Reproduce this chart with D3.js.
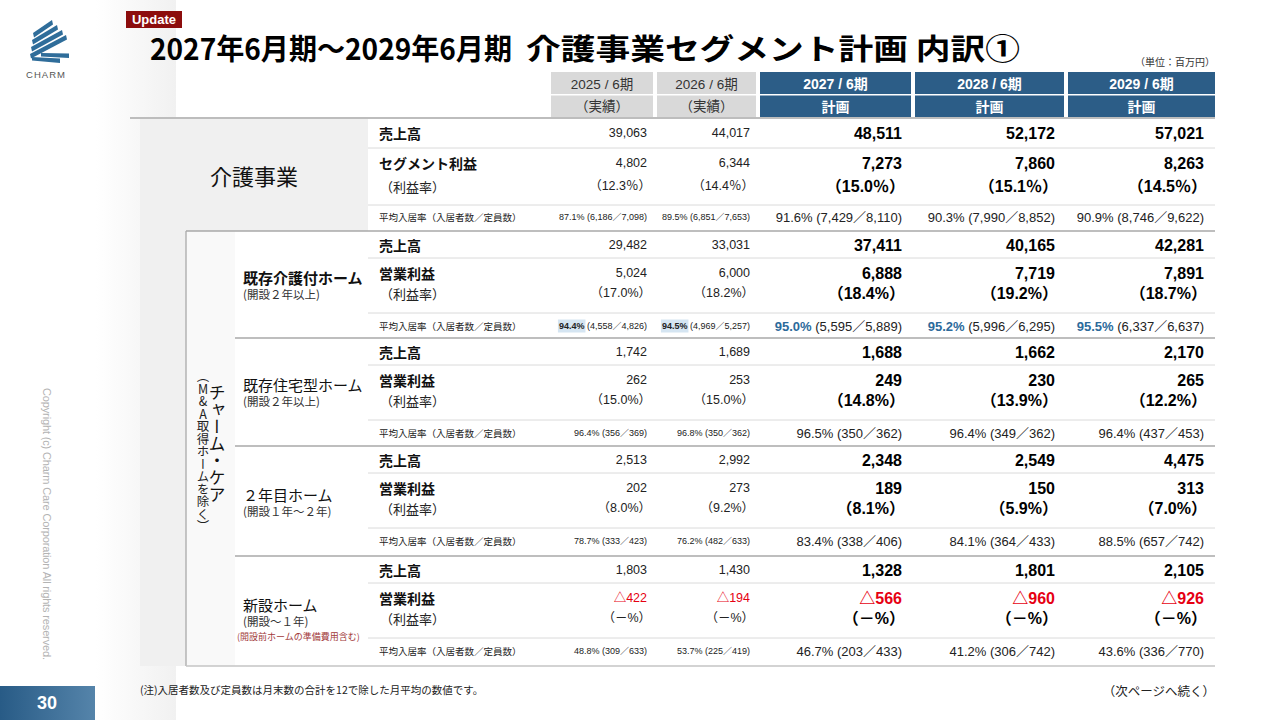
<!DOCTYPE html>
<html>
<head>
<meta charset="utf-8">
<script src="https://cdn.jsdelivr.net/npm/d3@7"></script>
<style>
  body { margin: 0; background: #fff; }
  text { font-family: "Liberation Sans", "Noto Sans CJK JP", sans-serif; }
  .jp { font-family: "Noto Sans CJK JP", sans-serif; }
</style>
</head>
<body>
<svg id="slide" width="1280" height="720"></svg>
<script>
// ---- data ----
const periods = ["2025 / 6期", "2026 / 6期", "2027 / 6期", "2028 / 6期", "2029 / 6期"];
const periodKinds = ["（実績）", "（実績）", "計画", "計画", "計画"];
const segments = ["介護事業", "既存介護付ホーム", "既存住宅型ホーム", "２年目ホーム", "新設ホーム"];
const segmentNotes = ["", "(開設２年以上)", "(開設２年以上)", "(開設１年～２年)", "(開設～１年)"];
const profitLabels = ["セグメント利益", "営業利益", "営業利益", "営業利益", "営業利益"];

const sales = [
  [39063, 44017, 48511, 52172, 57021],
  [29482, 33031, 37411, 40165, 42281],
  [1742, 1689, 1688, 1662, 2170],
  [2513, 2992, 2348, 2549, 4475],
  [1803, 1430, 1328, 1801, 2105]
];
const profit = [
  [4802, 6344, 7273, 7860, 8263],
  [5024, 6000, 6888, 7719, 7891],
  [262, 253, 249, 230, 265],
  [202, 273, 189, 150, 313],
  [-422, -194, -566, -960, -926]
];
const margin = [
  [12.3, 14.4, 15.0, 15.1, 14.5],
  [17.0, 18.2, 18.4, 19.2, 18.7],
  [15.0, 15.0, 14.8, 13.9, 12.2],
  [8.0, 9.2, 8.1, 5.9, 7.0],
  [null, null, null, null, null]
];
const occRate = [
  [87.1, 89.5, 91.6, 90.3, 90.9],
  [94.4, 94.5, 95.0, 95.2, 95.5],
  [96.4, 96.8, 96.5, 96.4, 96.4],
  [78.7, 76.2, 83.4, 84.1, 88.5],
  [48.8, 53.7, 46.7, 41.2, 43.6]
];
const residents = [
  [6186, 6851, 7429, 7990, 8746],
  [4558, 4969, 5595, 5996, 6337],
  [356, 350, 350, 349, 437],
  [333, 482, 338, 364, 657],
  [309, 225, 203, 306, 336]
];
const capacity = [
  [7098, 7653, 8110, 8852, 9622],
  [4826, 5257, 5889, 6295, 6637],
  [369, 362, 362, 362, 453],
  [423, 633, 406, 433, 742],
  [633, 419, 433, 742, 770]
];

// ---- layout ----
const svg = d3.select("#slide");
const fmt = d3.format(",");
const pct = d3.format(".1f");

const colX = d3.scaleOrdinal(periods, [551, 657, 760, 915, 1068]);
const colW = d3.scaleOrdinal(periods, [104, 101, 153, 151, 147]);
const segTop = d3.scaleOrdinal(segments, [119, 231, 338, 446, 556]);
const tableRight = 1215, tableBottom = 666;
const labelX = 379;

const blue = "#2c5d87", red = "#e60012";
const isPlan = i => i >= 2;

function txt(g, x, y, s, o = {}) {
  return g.append("text")
    .attr("x", x).attr("y", y)
    .attr("dominant-baseline", "central")
    .attr("text-anchor", o.anchor || "start")
    .attr("font-size", o.size || 12)
    .attr("font-weight", o.weight || "normal")
    .attr("fill", o.fill || "#222")
    .attr("class", o.cls || null)
    .text(s);
}

// faint side panel
const defs = svg.append("defs");
const side = defs.append("linearGradient").attr("id", "side");
side.append("stop").attr("offset", 0).attr("stop-color", "#fff");
side.append("stop").attr("offset", 1).attr("stop-color", "#f1f1f1");
svg.append("rect").attr("x", 96).attr("y", 0).attr("width", 80).attr("height", 720).attr("fill", "url(#side)");

const pg = defs.append("linearGradient").attr("id", "pg");
pg.append("stop").attr("offset", 0).attr("stop-color", "#285b86");
pg.append("stop").attr("offset", 1).attr("stop-color", "#5584aa");

// logo
const logo = svg.append("g").attr("fill", "#2f6d9a");
[[33, 33, 52, 20], [32, 40, 57, 25], [31, 47, 62, 30], [30, 54, 66, 35]].forEach(([x1, y1, x2, y2]) => {
  logo.append("polygon").attr("points", `${x1},${y1} ${x2},${y2} ${x2 + 1},${y2 + 4.5} ${x1 + 1},${y1 + 4.5}`);
});
[[32, 57, 60, 63], [41, 53, 69, 58]].forEach(([x1, y1, x2, y2]) => {
  logo.append("polygon").attr("points", `${x1},${y1} ${x2},${y2 - 4.5} ${x2},${y2} ${x1},${y1 + 3.5}`);
});
txt(svg, 46, 74, "CHARM", { anchor: "middle", size: 9.5, fill: "#555" }).attr("letter-spacing", 1);

// update badge + title
svg.append("rect").attr("x", 126).attr("y", 11).attr("width", 56).attr("height", 17).attr("fill", "#8c0d0d");
txt(svg, 154, 19.5, "Update", { anchor: "middle", size: 13, weight: "bold", fill: "#fff" });
txt(svg, 150, 47, "2027年6月期～2029年6月期", { size: 29, weight: "bold", fill: "#000", cls: "jp" })
  .attr("textLength", 362).attr("lengthAdjust", "spacingAndGlyphs");
txt(svg, 526, 47, "介護事業セグメント計画 内訳①", { size: 29, weight: "bold", fill: "#000", cls: "jp" })
  .attr("textLength", 494).attr("lengthAdjust", "spacingAndGlyphs");
txt(svg, tableRight, 61, "（単位：百万円）", { anchor: "end", size: 10, fill: "#333", cls: "jp" });

// header
const head = svg.append("g");
periods.forEach((p, i) => {
  const fill = isPlan(i) ? blue : "#d9d9d9";
  const w = colW(p) - (i < periods.length - 1 ? 2 : 0);
  head.append("rect").attr("x", colX(p)).attr("y", 72).attr("width", w).attr("height", 22).attr("fill", fill);
  head.append("rect").attr("x", colX(p)).attr("y", 95.5).attr("width", w).attr("height", 21.5).attr("fill", fill);
  const c = colX(p) + w / 2;
  const o = isPlan(i) ? { anchor: "middle", size: 14, weight: "bold", fill: "#fff" } : { anchor: "middle", size: 13.5, fill: "#333" };
  txt(head, c, 84, p, o);
  txt(head, c, 106.5, periodKinds[i], o);
});

// backgrounds of label columns
svg.append("rect").attr("x", 140).attr("y", segTop(segments[0])).attr("width", 228)
  .attr("height", segTop(segments[1]) - segTop(segments[0])).attr("fill", "#f0f0f0");
svg.append("rect").attr("x", 140).attr("y", segTop(segments[1])).attr("width", 46)
  .attr("height", tableBottom - segTop(segments[1])).attr("fill", "#f0f0f0");
svg.append("rect").attr("x", 186).attr("y", segTop(segments[1])).attr("width", 49)
  .attr("height", tableBottom - segTop(segments[1])).attr("fill", "#f9f9f9");

// top rule
svg.append("line").attr("x1", 130).attr("x2", tableRight).attr("y1", 118).attr("y2", 118)
  .attr("stroke", "#bdbdbd").attr("stroke-width", 2);

const body = svg.append("g");

segments.forEach((seg, si) => {
  const top = segTop(seg);
  const off = si === 0
    ? { sales: 14, line1: 29, profit: 44, margin: 67, line2: 86, occ: 98 }
    : { sales: 14, line1: 27, profit: 42, margin: 62, line2: 82, occ: 95 };
  const g = body.append("g");

  // section rule
  if (si > 0) {
    g.append("line").attr("x1", si === 1 ? 186 : 235).attr("x2", tableRight)
      .attr("y1", top).attr("y2", top).attr("stroke", "#a9a9a9").attr("stroke-width", 1.3);
  }
  [off.line1, off.line2].forEach(d => {
    g.append("line").attr("x1", 368).attr("x2", tableRight)
      .attr("y1", top + d).attr("y2", top + d).attr("stroke", "#dadada").attr("stroke-width", 1);
  });

  // segment label
  if (si === 0) {
    txt(g, 254, top + 56, seg, { anchor: "middle", size: 22, fill: "#111", cls: "jp" });
  } else {
    const ny = top + (si < 3 ? 46 : 48);
    txt(g, 243, ny, seg, { size: 15, weight: si === 1 ? "bold" : "normal", fill: "#111", cls: "jp" });
    txt(g, 243, ny + 17, segmentNotes[si], { size: 11.5, fill: "#333", cls: "jp" });
    if (si === 4) txt(g, 237, ny + 32, "(開設前ホームの準備費用含む)", { size: 9, fill: "#a23a3a", cls: "jp" });
  }

  // row labels
  txt(g, labelX, top + off.sales, "売上高", { size: 14, weight: "bold", fill: "#111", cls: "jp" });
  txt(g, labelX, top + off.profit, profitLabels[si], { size: 14, weight: "bold", fill: "#111", cls: "jp" });
  txt(g, labelX + 1, top + off.margin, "（利益率）", { size: 13, fill: "#222", cls: "jp" });
  txt(g, labelX, top + off.occ, "平均入居率（入居者数／定員数）", { size: 9.5, fill: "#222", cls: "jp" });

  // values
  periods.forEach((p, i) => {
    const plan = isPlan(i);
    const xr = colX(p) + colW(p) - (plan ? 11 : 8);
    const big = plan ? { size: 16, weight: "bold", fill: "#000" } : { size: 12.5, fill: "#222" };
    const v = profit[si][i];
    const m = margin[si][i];

    txt(g, xr, top + off.sales, fmt(sales[si][i]), { anchor: "end", ...big });
    txt(g, xr, top + off.profit, v < 0 ? "△" + fmt(-v) : fmt(v),
      { anchor: "end", ...big, fill: v < 0 ? red : big.fill });
    txt(g, xr + (plan ? 3 : 4), top + off.margin,
      m == null ? "（－%）" : `（${pct(m)}${si === 0 ? "％" : "%"}）`, { anchor: "end", ...big });

    // occupancy
    const rateStr = pct(occRate[si][i]) + "%";
    const restStr = ` (${fmt(residents[si][i])}／${fmt(capacity[si][i])})`;
    const t = txt(g, xr, top + off.occ, "", { anchor: "end", size: plan ? 13 : 9, fill: "#222" });
    const hl = si === 1;
    t.append("tspan").text(rateStr)
      .attr("font-weight", hl ? "bold" : "normal")
      .attr("fill", hl && plan ? "#2c6a9b" : "#222");
    t.append("tspan").text(restStr);
    if (hl && !plan) {
      const node = t.node();
      const total = node.getComputedTextLength();
      const rw = node.getSubStringLength(0, rateStr.length);
      g.insert("rect", "text").attr("x", xr - total - 1).attr("y", top + off.occ - 6.5)
        .attr("width", rw + 2).attr("height", 13).attr("fill", "#d5e5f2");
    }
  });
});

// inner box border + bottom rule
svg.append("line").attr("x1", 186).attr("x2", 186).attr("y1", segTop(segments[1])).attr("y2", tableBottom)
  .attr("stroke", "#a9a9a9").attr("stroke-width", 1.3);
svg.append("line").attr("x1", 186).attr("x2", tableRight).attr("y1", tableBottom).attr("y2", tableBottom)
  .attr("stroke", "#c4c4c4").attr("stroke-width", 1.5);

// vertical label
svg.append("text").attr("x", 217).attr("y", 384).attr("font-size", 17).attr("fill", "#111").attr("class", "jp")
  .style("writing-mode", "vertical-rl").style("text-orientation", "upright")
  .text("チャーム・ケア");
svg.append("text").attr("x", 203).attr("y", 370).attr("font-size", 12.5).attr("fill", "#222").attr("class", "jp")
  .style("writing-mode", "vertical-rl").style("text-orientation", "upright")
  .text("（M&A取得ホームを除く）");

// footer
txt(svg, 140, 689, "(注)入居者数及び定員数は月末数の合計を12で除した月平均の数値です。", { size: 10.5, fill: "#222", cls: "jp" });
txt(svg, tableRight, 690, "（次ページへ続く）", { anchor: "end", size: 12.5, fill: "#222", cls: "jp" });

svg.append("text").attr("transform", "translate(43,388) rotate(90)")
  .attr("font-size", 11).attr("fill", "#b3b3b3").attr("textLength", 272)
  .text("Copyright (c) Charm Care Corporation All rights reserved.");

svg.append("rect").attr("x", 0).attr("y", 686).attr("width", 95).attr("height", 34).attr("fill", "url(#pg)");
txt(svg, 47, 703, "30", { anchor: "middle", size: 18, weight: "bold", fill: "#fff" });
</script>
</body>
</html>
